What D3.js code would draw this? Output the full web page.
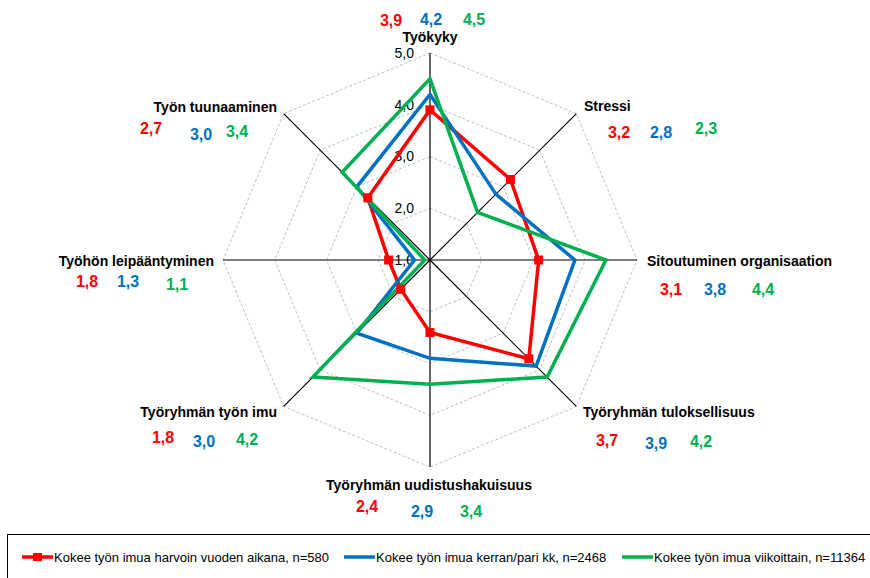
<!DOCTYPE html>
<html>
<head>
<meta charset="utf-8">
<script src="https://cdn.jsdelivr.net/npm/d3@7"></script>
<style>
  html, body { margin: 0; padding: 0; background: #fff; }
  svg { display: block; font-family: "Liberation Sans", Arial, sans-serif; }
</style>
</head>
<body>
<svg id="chart" width="870" height="578"></svg>
<script>
// Dimensions of the radar (scale 1,0 .. 5,0)
const categories = [
  "Työkyky",
  "Stressi",
  "Sitoutuminen organisaation",
  "Työryhmän tuloksellisuus",
  "Työryhmän uudistushakuisuus",
  "Työryhmän työn imu",
  "Työhön leipääntyminen",
  "Työn tuunaaminen"
];

const seriesNames = [
  "Kokee työn imua harvoin vuoden aikana, n=580",
  "Kokee työn imua kerran/pari kk, n=2468",
  "Kokee työn imua viikoittain, n=11364"
];

const rareValues    = [3.9, 3.2, 3.1, 3.7, 2.4, 1.8, 1.8, 2.7];
const monthlyValues = [4.2, 2.8, 3.8, 3.9, 2.9, 3.0, 1.3, 3.0];
const weeklyValues  = [4.5, 2.3, 4.4, 4.2, 3.4, 4.2, 1.1, 3.4];

const tickValues = [1, 2, 3, 4, 5];
const tickLabels = ["1,0", "2,0", "3,0", "4,0", "5,0"];

const seriesColors = ["#ff0000", "#0070c0", "#00b050"];
const seriesData = [rareValues, monthlyValues, weeklyValues];

// Placement of the category names and value rows around the radar
const labelLayout = [
  { x: 430, y: 37,  anchor: "middle", vx: [391, 431, 474], vy: [20, 19, 19] },
  { x: 584, y: 106, anchor: "start",  vx: [619, 661, 706], vy: [132, 132, 128] },
  { x: 647, y: 261, anchor: "start",  vx: [671, 715, 763], vy: [289, 289, 289] },
  { x: 583, y: 412, anchor: "start",  vx: [607, 656, 701], vy: [440, 443, 441] },
  { x: 429, y: 485, anchor: "middle", vx: [367, 422, 471], vy: [506, 511, 511] },
  { x: 277, y: 412, anchor: "end",    vx: [163, 204, 247], vy: [437, 441, 439] },
  { x: 214, y: 261, anchor: "end",    vx: [87, 128, 177],  vy: [281, 281, 284] },
  { x: 277, y: 107, anchor: "end",    vx: [151, 201, 237], vy: [128, 134, 131] }
];

const fmt = v => d3.format(".1f")(v).replace(".", ",");

const svg = d3.select("#chart");
const cx = 430, cy = 260;

const r = d3.scaleLinear().domain([1, 5]).range([0, 207]);
const angle = d3.scaleLinear().domain([0, categories.length]).range([0, 2 * Math.PI]);

const g = svg.append("g").attr("transform", `translate(${cx},${cy})`);

// Grid rings
const ringLine = d3.lineRadial()
  .angle((d, i) => angle(i))
  .radius(d => r(d))
  .curve(d3.curveLinearClosed);

g.selectAll("path.ring")
  .data(tickValues.filter(t => t > 1))
  .join("path")
  .attr("class", "ring")
  .attr("d", t => ringLine(categories.map(() => t)))
  .attr("fill", "none")
  .attr("stroke", "#bfbfbf")
  .attr("stroke-width", 1)
  .attr("stroke-dasharray", "3,2");

// Axis spokes
g.selectAll("line.spoke")
  .data(categories)
  .join("line")
  .attr("class", "spoke")
  .attr("x1", 0).attr("y1", 0)
  .attr("x2", (d, i) => r(5) * Math.sin(angle(i)))
  .attr("y2", (d, i) => -r(5) * Math.cos(angle(i)))
  .attr("stroke", "#000")
  .attr("stroke-width", 1.2);

// Tick labels along the vertical axis
g.selectAll("text.tick")
  .data(tickValues)
  .join("text")
  .attr("class", "tick")
  .attr("x", -16)
  .attr("y", t => -r(t))
  .attr("dy", "0.35em")
  .attr("text-anchor", "end")
  .attr("font-size", 14)
  .attr("fill", "#000")
  .text((t, i) => tickLabels[i]);

// Series polygons
const seriesLine = d3.lineRadial()
  .angle((d, i) => angle(i))
  .radius(d => r(d))
  .curve(d3.curveLinearClosed);

seriesData.forEach((vals, s) => {
  g.append("path")
    .attr("d", seriesLine(vals))
    .attr("fill", "none")
    .attr("stroke", seriesColors[s])
    .attr("stroke-width", 3.5)
    .attr("stroke-linejoin", "miter");
});

// Square markers for the first series
g.selectAll("rect.marker")
  .data(rareValues)
  .join("rect")
  .attr("class", "marker")
  .attr("x", (d, i) => r(d) * Math.sin(angle(i)) - 4.5)
  .attr("y", (d, i) => -r(d) * Math.cos(angle(i)) - 4.5)
  .attr("width", 9).attr("height", 9)
  .attr("fill", seriesColors[0]);

// Category names and values
categories.forEach((name, i) => {
  const L = labelLayout[i];
  svg.append("text")
    .attr("x", L.x).attr("y", L.y)
    .attr("dy", "0.35em")
    .attr("text-anchor", L.anchor)
    .attr("font-size", 14)
    .attr("font-weight", "bold")
    .attr("fill", "#000")
    .text(name);
  seriesData.forEach((vals, s) => {
    svg.append("text")
      .attr("x", L.vx[s]).attr("y", L.vy[s])
      .attr("dy", "0.35em")
      .attr("text-anchor", "middle")
      .attr("font-size", 16)
      .attr("font-weight", "bold")
      .attr("fill", seriesColors[s])
      .text(fmt(vals[i]));
  });
});

// Legend
svg.append("rect")
  .attr("x", 7.5).attr("y", 534.5)
  .attr("width", 870).attr("height", 60)
  .attr("fill", "#fff")
  .attr("stroke", "#000")
  .attr("stroke-width", 1);

const legendX = [22, 344, 622];
const legend = svg.selectAll("g.legend")
  .data(seriesNames)
  .join("g")
  .attr("class", "legend")
  .attr("transform", (d, i) => `translate(${legendX[i]},557)`);

legend.append("line")
  .attr("x1", 0).attr("x2", 31)
  .attr("y1", 0).attr("y2", 0)
  .attr("stroke", (d, i) => seriesColors[i])
  .attr("stroke-width", 3.5);

legend.filter((d, i) => i === 0)
  .append("rect")
  .attr("x", 11).attr("y", -4)
  .attr("width", 9).attr("height", 8)
  .attr("fill", seriesColors[0]);

legend.append("text")
  .attr("x", 32)
  .attr("dy", "0.35em")
  .attr("font-size", 13)
  .attr("fill", "#000")
  .text(d => d);
</script>
</body>
</html>
